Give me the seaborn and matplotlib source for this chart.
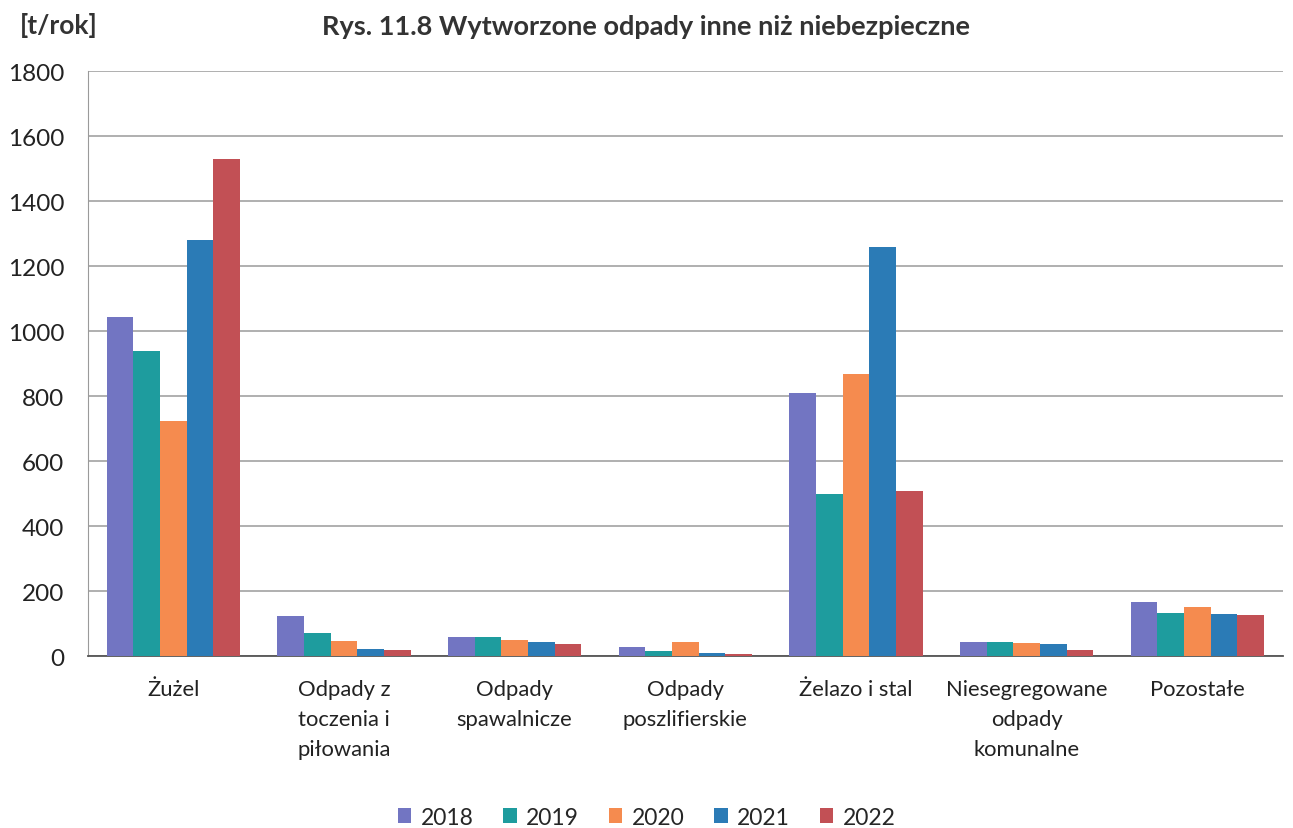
import pandas as pd
import numpy as np
import matplotlib
matplotlib.use('Agg')
import matplotlib.pyplot as plt
import seaborn as sns

# Data
categories = ['Żużel', 'Odpady z\ntoczenia i\npiłowania', 'Odpady\nspawalnicze',
              'Odpady\nposzlifierskie', 'Żelazo i stal', 'Niesegregowane\nodpady\nkomunalne',
              'Pozostałe']
years = ['2018', '2019', '2020', '2021', '2022']
v2018 = [1045, 124, 59, 30, 810, 45, 168]
v2019 = [940, 71, 60, 18, 500, 45, 132]
v2020 = [725, 47, 51, 45, 870, 40, 152]
v2021 = [1280, 24, 44, 10, 1260, 38, 130]
v2022 = [1530, 21, 39, 8, 510, 20, 126]
colors = ['#7275C2', '#1E9C9E', '#F58B4F', '#2B7BB6', '#C25055']

rows = []
for year, vals in zip(years, [v2018, v2019, v2020, v2021, v2022]):
    for cat, v in zip(categories, vals):
        rows.append({'kategoria': cat, 'rok': year, 'wartosc': v})
df = pd.DataFrame(rows)

sns.set_style('white')
plt.rcParams['font.family'] = ['Lato', 'DejaVu Sans']

fig = plt.figure(figsize=(12.93, 8.29), dpi=100)
ax = fig.add_axes([0.068, 0.207, 0.924, 0.706])

sns.barplot(data=df, x='kategoria', y='wartosc', hue='rok', palette=colors,
            width=0.78, saturation=1, linewidth=0, ax=ax, zorder=3)

ax.set_ylim(0, 1800)
ax.set_yticks(np.arange(0, 1801, 200))
ax.yaxis.grid(True, color='#9a9a9a', linewidth=1.1, zorder=0)
ax.set_axisbelow(True)
ax.set_xlabel('')
ax.set_ylabel('')
ax.set_xlim(-0.5, len(categories) - 0.5)
for s in ['top', 'right']:
    ax.spines[s].set_visible(False)
ax.spines['left'].set_color('#9a9a9a')
ax.spines['bottom'].set_color('#555555')
ax.spines['bottom'].set_linewidth(1.3)
ax.tick_params(axis='y', labelsize=17.5, length=0, pad=17, colors='#222222')
ax.tick_params(axis='x', labelsize=15.8, length=0, pad=16, colors='#222222')
for lbl in ax.get_xticklabels():
    lbl.set_verticalalignment('top')
    lbl.set_linespacing(1.65)

fig.text(0.015, 0.969, '[t/rok]', fontsize=19, fontweight='bold', color='#333333', va='center')
fig.text(0.50, 0.967, 'Rys. 11.8 Wytworzone odpady inne niż niebezpieczne', fontsize=19.5,
         fontweight='bold', color='#333333', ha='center', va='center')

ax.get_legend().remove()
handles, labels = ax.get_legend_handles_labels()
fig.legend(handles, labels, loc='center', bbox_to_anchor=(0.5, 0.013), ncol=5, frameon=False,
           fontsize=16.5, handlelength=0.6, handleheight=0.6, columnspacing=1.3,
           handletextpad=0.4)

fig.savefig('out.png', dpi=100)
